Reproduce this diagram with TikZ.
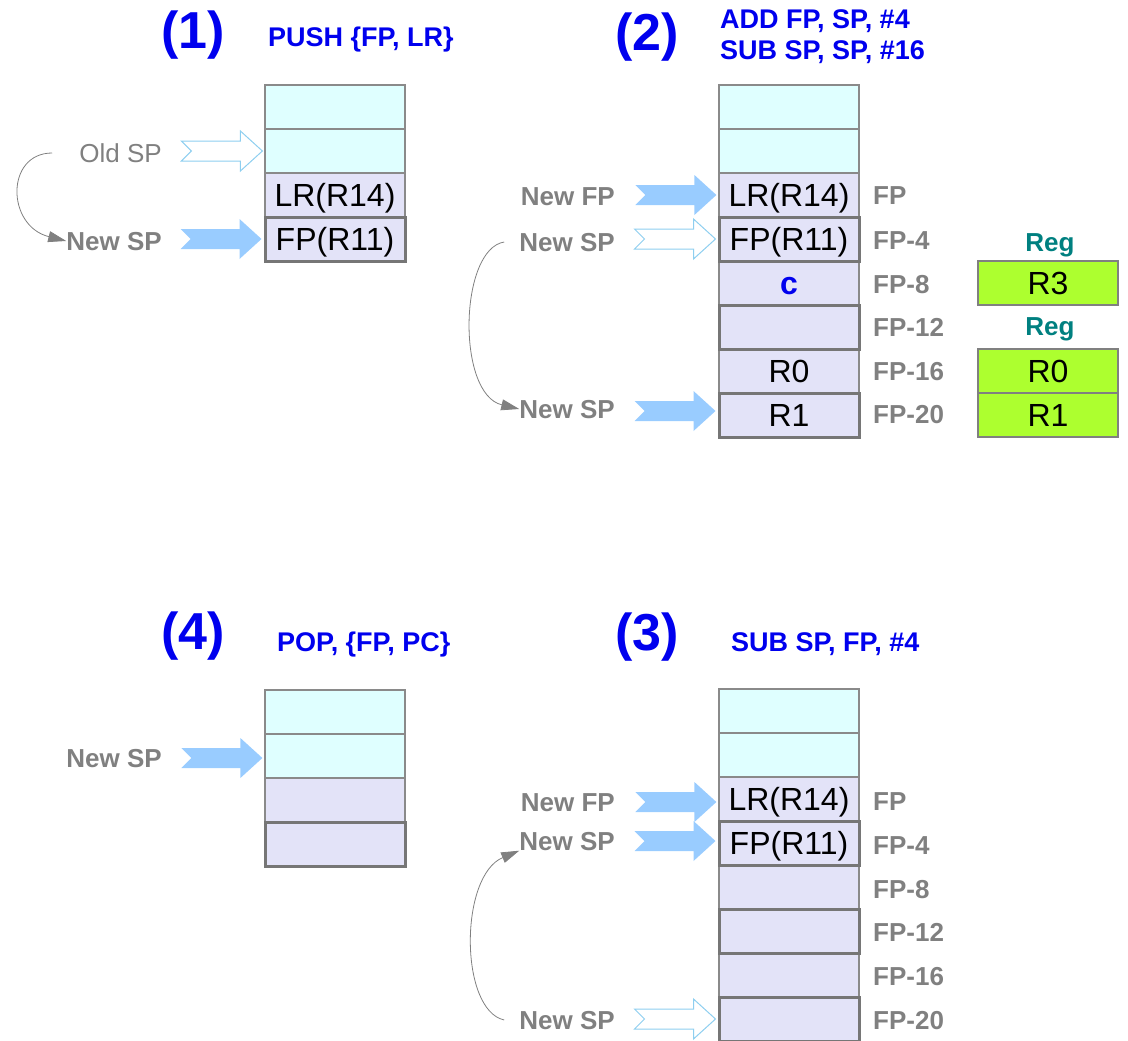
\documentclass[tikz,border=0pt]{standalone}
\usepackage{fontspec}
\setmainfont{Liberation Sans}
\usepackage{tikz}
\usetikzlibrary{arrows.meta}

\definecolor{topfill}{HTML}{DFFFFF}
\definecolor{lowfill}{HTML}{E3E3F8}
\definecolor{cellline}{HTML}{8A8A8A}
\definecolor{markline}{HTML}{767676}
\definecolor{arrowblue}{HTML}{99CCFF}
\definecolor{arrowedge}{HTML}{8ECFF0}
\definecolor{codeblue}{HTML}{0000EE}
\definecolor{labelgray}{HTML}{808080}
\definecolor{regteal}{HTML}{008080}
\definecolor{reggreen}{HTML}{ADFF2F}

% block arrow with notched tail, tip just left of the given point
\newcommand{\fatarrow}[2]{%
  \draw[#1, shift={#2}] (-2,0) -- (-24,-20) -- (-24,-10) -- (-83,-10) -- (-73,0)
    -- (-83,10) -- (-24,10) -- (-24,20) -- cycle;}

\begin{document}
\begin{tikzpicture}[x=1pt, y=-1pt]
    \tikzstyle{cell} = [rectangle, draw=cellline, line width=1.2pt, minimum width=140pt, minimum height=44pt, inner sep=0pt, font=\fontsize{32}{36}\selectfont, text height=23pt, text depth=0pt]
    \tikzstyle{topcell} = [cell, fill=topfill]
    \tikzstyle{lowcell} = [cell, fill=lowfill]
    \tikzstyle{markcell} = [draw=markline, line width=3pt]
    \tikzstyle{regcell} = [cell, fill=reggreen, draw=labelgray, line width=2.5pt]
    \tikzstyle{lbl} = [text=labelgray, font=\bfseries\fontsize{26}{30}\selectfont, inner sep=0pt, text height=19pt, text depth=0pt]
    \tikzstyle{oldlbl} = [lbl, font=\fontsize{26}{30}\selectfont]
    \tikzstyle{num} = [text=codeblue, font=\bfseries\fontsize{52}{56}\selectfont, inner sep=0pt]
    \tikzstyle{instr} = [text=codeblue, font=\bfseries\fontsize{27}{31}\selectfont, inner sep=0pt, align=left, anchor=west]
    \tikzstyle{fatfill} = [fill=arrowblue, draw=none]
    \tikzstyle{fatline} = [fill=white, draw=arrowedge, line width=1pt]
    \tikzstyle{jump} = [draw=labelgray, line width=0.8pt, -{Triangle[length=18pt, width=11pt]}]

    \useasboundingbox (0,0) rectangle (1128,1041);

    % (1) PUSH
    \node[num] (n1) at (193,35) {(1)};
    \node[instr] (i1) at (268,40) {PUSH \{FP, LR\}};
    \node[topcell] (a1) at (335,107) {};
    \node[topcell] (a2) at (335,151) {};
    \node[lowcell] (a3) at (335,195) {LR(R14)};
    \node[lowcell, markcell] (a4) at (335,239) {FP(R11)};
    \node[oldlbl, anchor=east] (old1) at (162,153) {Old SP};
    \node[lbl, anchor=east] (new1) at (162,241) {New SP};
    \fatarrow{fatline}{(a2.west)}
    \fatarrow{fatfill}{(a4.west)}
    \draw[jump] ([xshift=-27pt]old1.west) .. controls +(-47,0) and +(-60,-15) .. (new1.west);

    % (2) ADD / SUB
    \node[num] (n2) at (647,37) {(2)};
    \node[instr] (i2) at (720,37) {ADD FP, SP, \#4\\SUB SP, SP, \#16};
    \node[topcell] (b1) at (789,107) {};
    \node[topcell] (b2) at (789,151) {};
    \node[lowcell] (b3) at (789,195) {LR(R14)};
    \node[lowcell, text=codeblue, font=\bfseries\fontsize{32}{36}\selectfont] (b5) at (789,283) {c};
    \node[lowcell] (b7) at (789,371) {R0};
    \node[lowcell, markcell] (b4) at (789,239) {FP(R11)};
    \node[lowcell, markcell] (b6) at (789,327) {};
    \node[lowcell, markcell] (b8) at (789,415) {R1};
    \node[lbl, anchor=west] (fp2a) at (873,195) {FP};
    \node[lbl, anchor=west] (fp2b) at (873,240) {FP-4};
    \node[lbl, anchor=west] (fp2c) at (873,284) {FP-8};
    \node[lbl, anchor=west] (fp2d) at (873,327) {FP-12};
    \node[lbl, anchor=west] (fp2e) at (873,371) {FP-16};
    \node[lbl, anchor=west] (fp2f) at (873,414) {FP-20};
    \node[lbl, anchor=east] (nfp2) at (615,196) {New FP};
    \node[lbl, anchor=east] (nsp2a) at (615,242) {New SP};
    \node[lbl, anchor=east] (nsp2b) at (615,409) {New SP};
    \fatarrow{fatfill}{(b3.west)}
    \fatarrow{fatline}{(b4.west)}
    \fatarrow{fatfill}{([yshift=4pt]b8.west)}
    \draw[jump] ([xshift=-15pt]nsp2a.west) .. controls +(-45,7) and +(-63,-15) .. (nsp2b.west);

    % registers
    \node[lbl, text=regteal] (rg1) at (1050,242) {Reg};
    \node[lbl, text=regteal] (rg2) at (1050,326) {Reg};
    \node[regcell] (r3) at (1048,283) {R3};
    \node[regcell] (r0) at (1048,371) {R0};
    \node[regcell] (r1) at (1048,415) {R1};

    % (4) POP
    \node[num] (n4) at (193,636) {(4)};
    \node[instr] (i4) at (277,645) {POP, \{FP, PC\}};
    \node[topcell] (d1) at (335,712) {};
    \node[topcell] (d2) at (335,756) {};
    \node[lowcell] (d3) at (335,800) {};
    \node[lowcell, markcell] (d4) at (335,844) {};
    \node[lbl, anchor=east] (nsp4) at (162,758) {New SP};
    \fatarrow{fatfill}{([yshift=-2pt]d2.west)}

    % (3) SUB SP, FP
    \node[num] (n3) at (647,637) {(3)};
    \node[instr] (i3) at (731,644) {SUB SP, FP, \#4};
    \node[topcell] (c1) at (789,711) {};
    \node[topcell] (c2) at (789,755) {};
    \node[lowcell] (c3) at (789,799) {LR(R14)};
    \node[lowcell] (c5) at (789,887) {};
    \node[lowcell] (c7) at (789,975) {};
    \node[lowcell, markcell] (c4) at (789,843) {FP(R11)};
    \node[lowcell, markcell] (c6) at (789,931) {};
    \node[lowcell, markcell] (c8) at (789,1019) {};
    \node[lbl, anchor=west] (fp3a) at (873,801) {FP};
    \node[lbl, anchor=west] (fp3b) at (873,845) {FP-4};
    \node[lbl, anchor=west] (fp3c) at (873,889) {FP-8};
    \node[lbl, anchor=west] (fp3d) at (873,932) {FP-12};
    \node[lbl, anchor=west] (fp3e) at (873,976) {FP-16};
    \node[lbl, anchor=west] (fp3f) at (873,1020) {FP-20};
    \node[lbl, anchor=east] (nfp3) at (615,802) {New FP};
    \node[lbl, anchor=east] (nsp3a) at (615,841) {New SP};
    \node[lbl, anchor=east] (nsp3b) at (615,1020) {New SP};
    \fatarrow{fatfill}{([yshift=-3pt]c3.west)}
    \fatarrow{fatfill}{([yshift=2pt]c4.west)}
    \fatarrow{fatline}{(c8.west)}
    \draw[jump] ([xshift=-15pt]nsp3b.west) .. controls +(-45,-10) and +(-60,25) .. (nsp3a.south west);
\end{tikzpicture}
\end{document}
